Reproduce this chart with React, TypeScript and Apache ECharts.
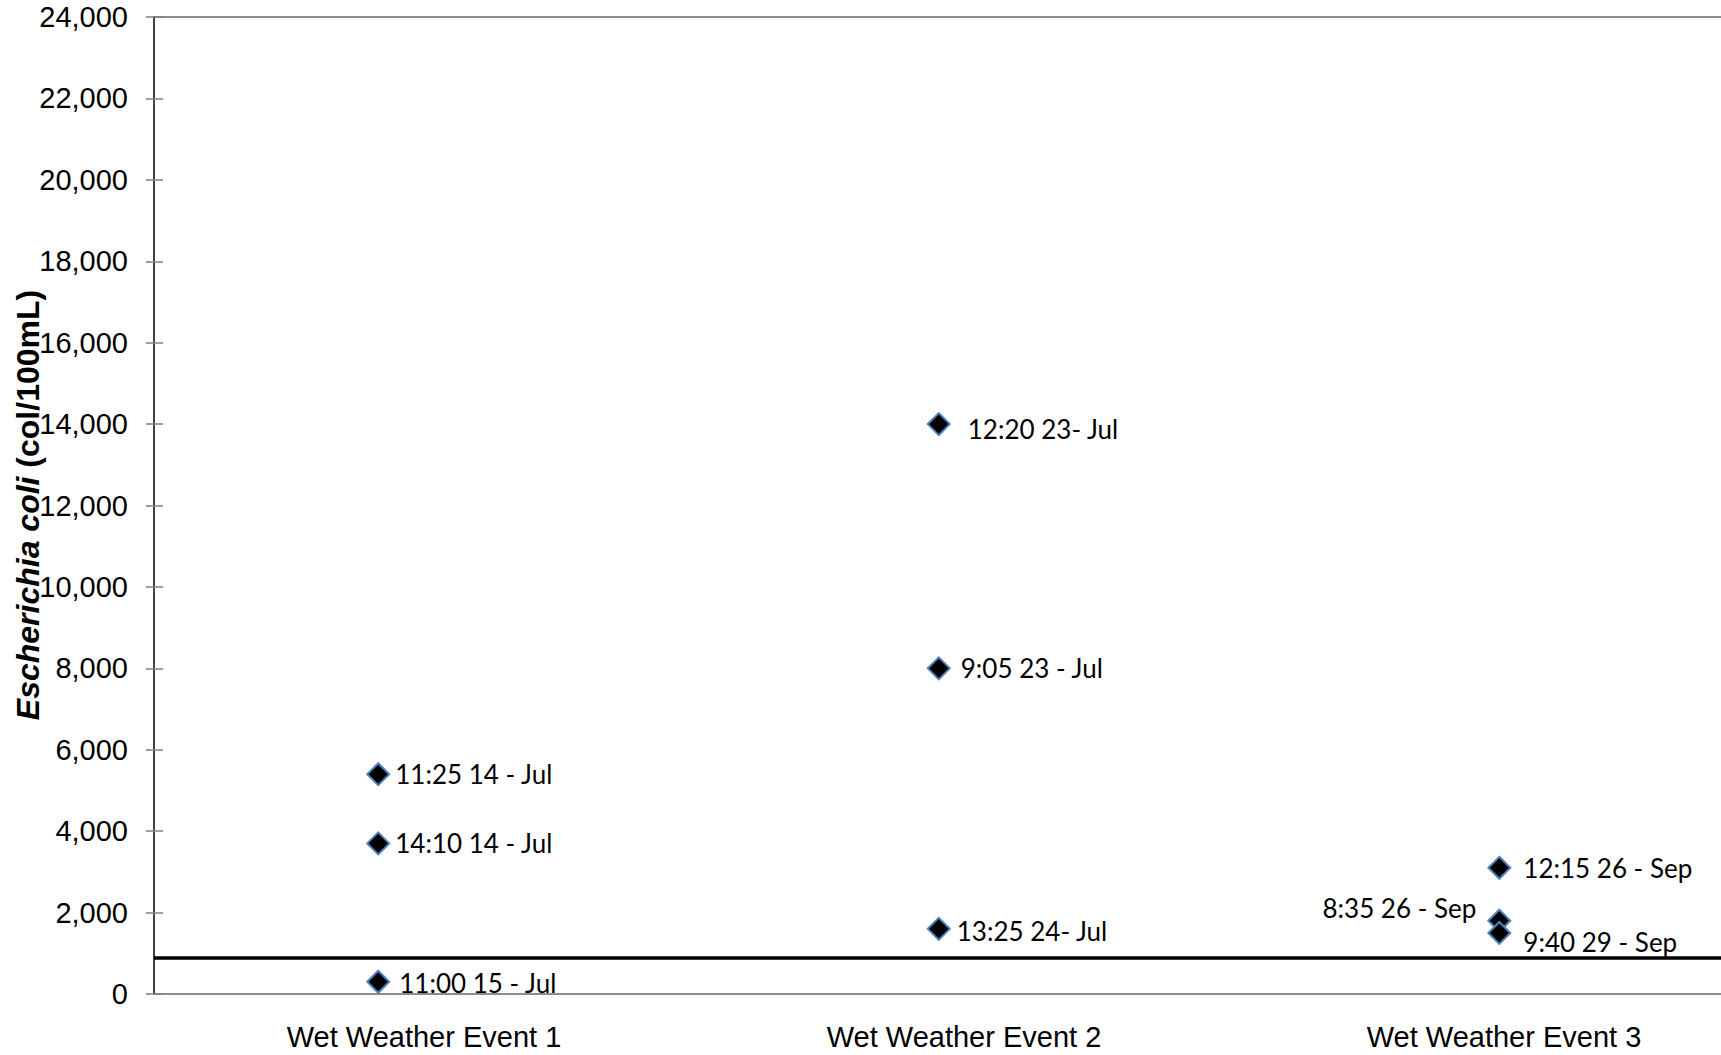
import React, { useEffect, useRef } from "react";
import * as echarts from "echarts";

// ---- Data ----
const categories = ["Wet Weather Event 1", "Wet Weather Event 2", "Wet Weather Event 3"];
const sampleLabels = [
  "11:25 14 - Jul",
  "14:10 14 - Jul",
  "11:00 15 - Jul",
  "12:20 23- Jul",
  "9:05 23 - Jul",
  "13:25 24- Jul",
  "12:15 26 - Sep",
  "8:35 26 - Sep",
  "9:40 29 - Sep",
];
const sampleEvent = [1, 1, 1, 2, 2, 2, 3, 3, 3];
const eColiValues = [5400, 3700, 300, 14000, 8000, 1600, 3100, 1800, 1500];
const thresholdValue = 900;
const yMin = 0;
const yMax = 24000;
const yInterval = 2000;
const yTitleItalic = "Escherichia coli";
const yTitleRest = " (col/100mL)";

// ---- Label placement (style only) ----
const labelPlacement: { pos: string; dist: number; dy: number }[] = [
  { pos: "right", dist: 5, dy: 0 },
  { pos: "right", dist: 5, dy: 0 },
  { pos: "right", dist: 9, dy: 1 },
  { pos: "right", dist: 17, dy: 5 },
  { pos: "right", dist: 10, dy: 0 },
  { pos: "right", dist: 6, dy: 2 },
  { pos: "right", dist: 12, dy: 0 },
  { pos: "left", dist: 11, dy: -13 },
  { pos: "right", dist: 12, dy: 9 },
];

export default function App() {
  const ref = useRef<HTMLDivElement>(null);
  useEffect(() => {
    if (!ref.current) return;
    const chart = echarts.init(ref.current, null, { renderer: "svg" });
    const points = eColiValues.map((v, i) => ({
      value: [sampleEvent[i], v],
      label: {
        show: true,
        formatter: sampleLabels[i],
        position: labelPlacement[i].pos,
        distance: labelPlacement[i].dist,
        offset: [0, labelPlacement[i].dy],
      },
    }));
    const yLabelFmt = (v: number) => v.toLocaleString("en-US");
    chart.setOption({
      animation: false,
      backgroundColor: "#ffffff",
      grid: {
        left: 154,
        top: 17,
        bottom: 61,
        right: -53,
        containLabel: false,
        outerBoundsMode: "none",
        show: true,
        borderColor: "#8c8c8c",
        borderWidth: 2,
        backgroundColor: "transparent",
      },
      graphic: [
        {
          type: "text",
          x: 28,
          y: 505,
          rotation: Math.PI / 2,
          z: 10,
          style: {
            text: "{i|" + yTitleItalic + "}" + yTitleRest,
            fill: "#000",
            font: "bold 32px 'Liberation Sans', Arial, sans-serif",
            align: "center",
            verticalAlign: "middle",
            rich: {
              i: {
                fill: "#000",
                fontFamily: "Liberation Sans, Arial, sans-serif",
                fontSize: 32,
                fontWeight: "bold",
                fontStyle: "italic",
              },
            },
          },
        },
      ],
      xAxis: [
        {
          type: "category",
          data: categories,
          position: "bottom",
          axisLine: { show: true, lineStyle: { color: "#8c8c8c", width: 2 } },
          axisTick: { show: false },
          axisLabel: {
            color: "#000",
            fontFamily: "Liberation Sans, Arial, sans-serif",
            fontSize: 29,
            margin: 28,
          },
          splitLine: { show: false },
        },
        {
          type: "value",
          min: 0.6,
          max: 3.49,
          show: false,
          splitLine: { show: false },
        },
      ],
      yAxis: [
        {
          type: "value",
          min: yMin,
          max: yMax,
          interval: yInterval,
          position: "left",
          axisLine: { show: true, lineStyle: { color: "#404040", width: 2 } },
          axisTick: { show: true, inside: false, length: 8, lineStyle: { color: "#808080", width: 1.5 } },
          axisLabel: {
            color: "#000",
            fontFamily: "Liberation Sans, Arial, sans-serif",
            fontSize: 29,
            margin: 26,
            formatter: yLabelFmt,
          },
          splitLine: { show: false },
        },
        {
          type: "value",
          min: yMin,
          max: yMax,
          interval: yInterval,
          position: "left",
          axisLine: { show: false },
          axisTick: { show: true, inside: true, length: 9, lineStyle: { color: "#808080", width: 1.5 } },
          axisLabel: { show: false },
          splitLine: { show: false },
        },
      ],
      series: [
        {
          type: "scatter",
          xAxisIndex: 1,
          yAxisIndex: 0,
          symbol: "diamond",
          symbolSize: 22,
          itemStyle: { color: "#000000", borderColor: "#4F81BD", borderWidth: 2, opacity: 1 },
          label: {
            color: "#000",
            fontFamily: "Lato, 'Open Sans', sans-serif",
            fontSize: 26,
          },
          emphasis: { disabled: true },
          data: points,
          markLine: {
            silent: true,
            symbol: "none",
            label: { show: false },
            lineStyle: { color: "#000", width: 3.5, type: "solid" },
            data: [{ yAxis: thresholdValue }],
          },
          z: 5,
        },
      ],
    });
    return () => chart.dispose();
  }, []);
  return (
    <div
      ref={ref}
      style={{ position: "fixed", left: 0, top: 0, width: 1721, height: 1055, background: "#fff" }}
    />
  );
}
